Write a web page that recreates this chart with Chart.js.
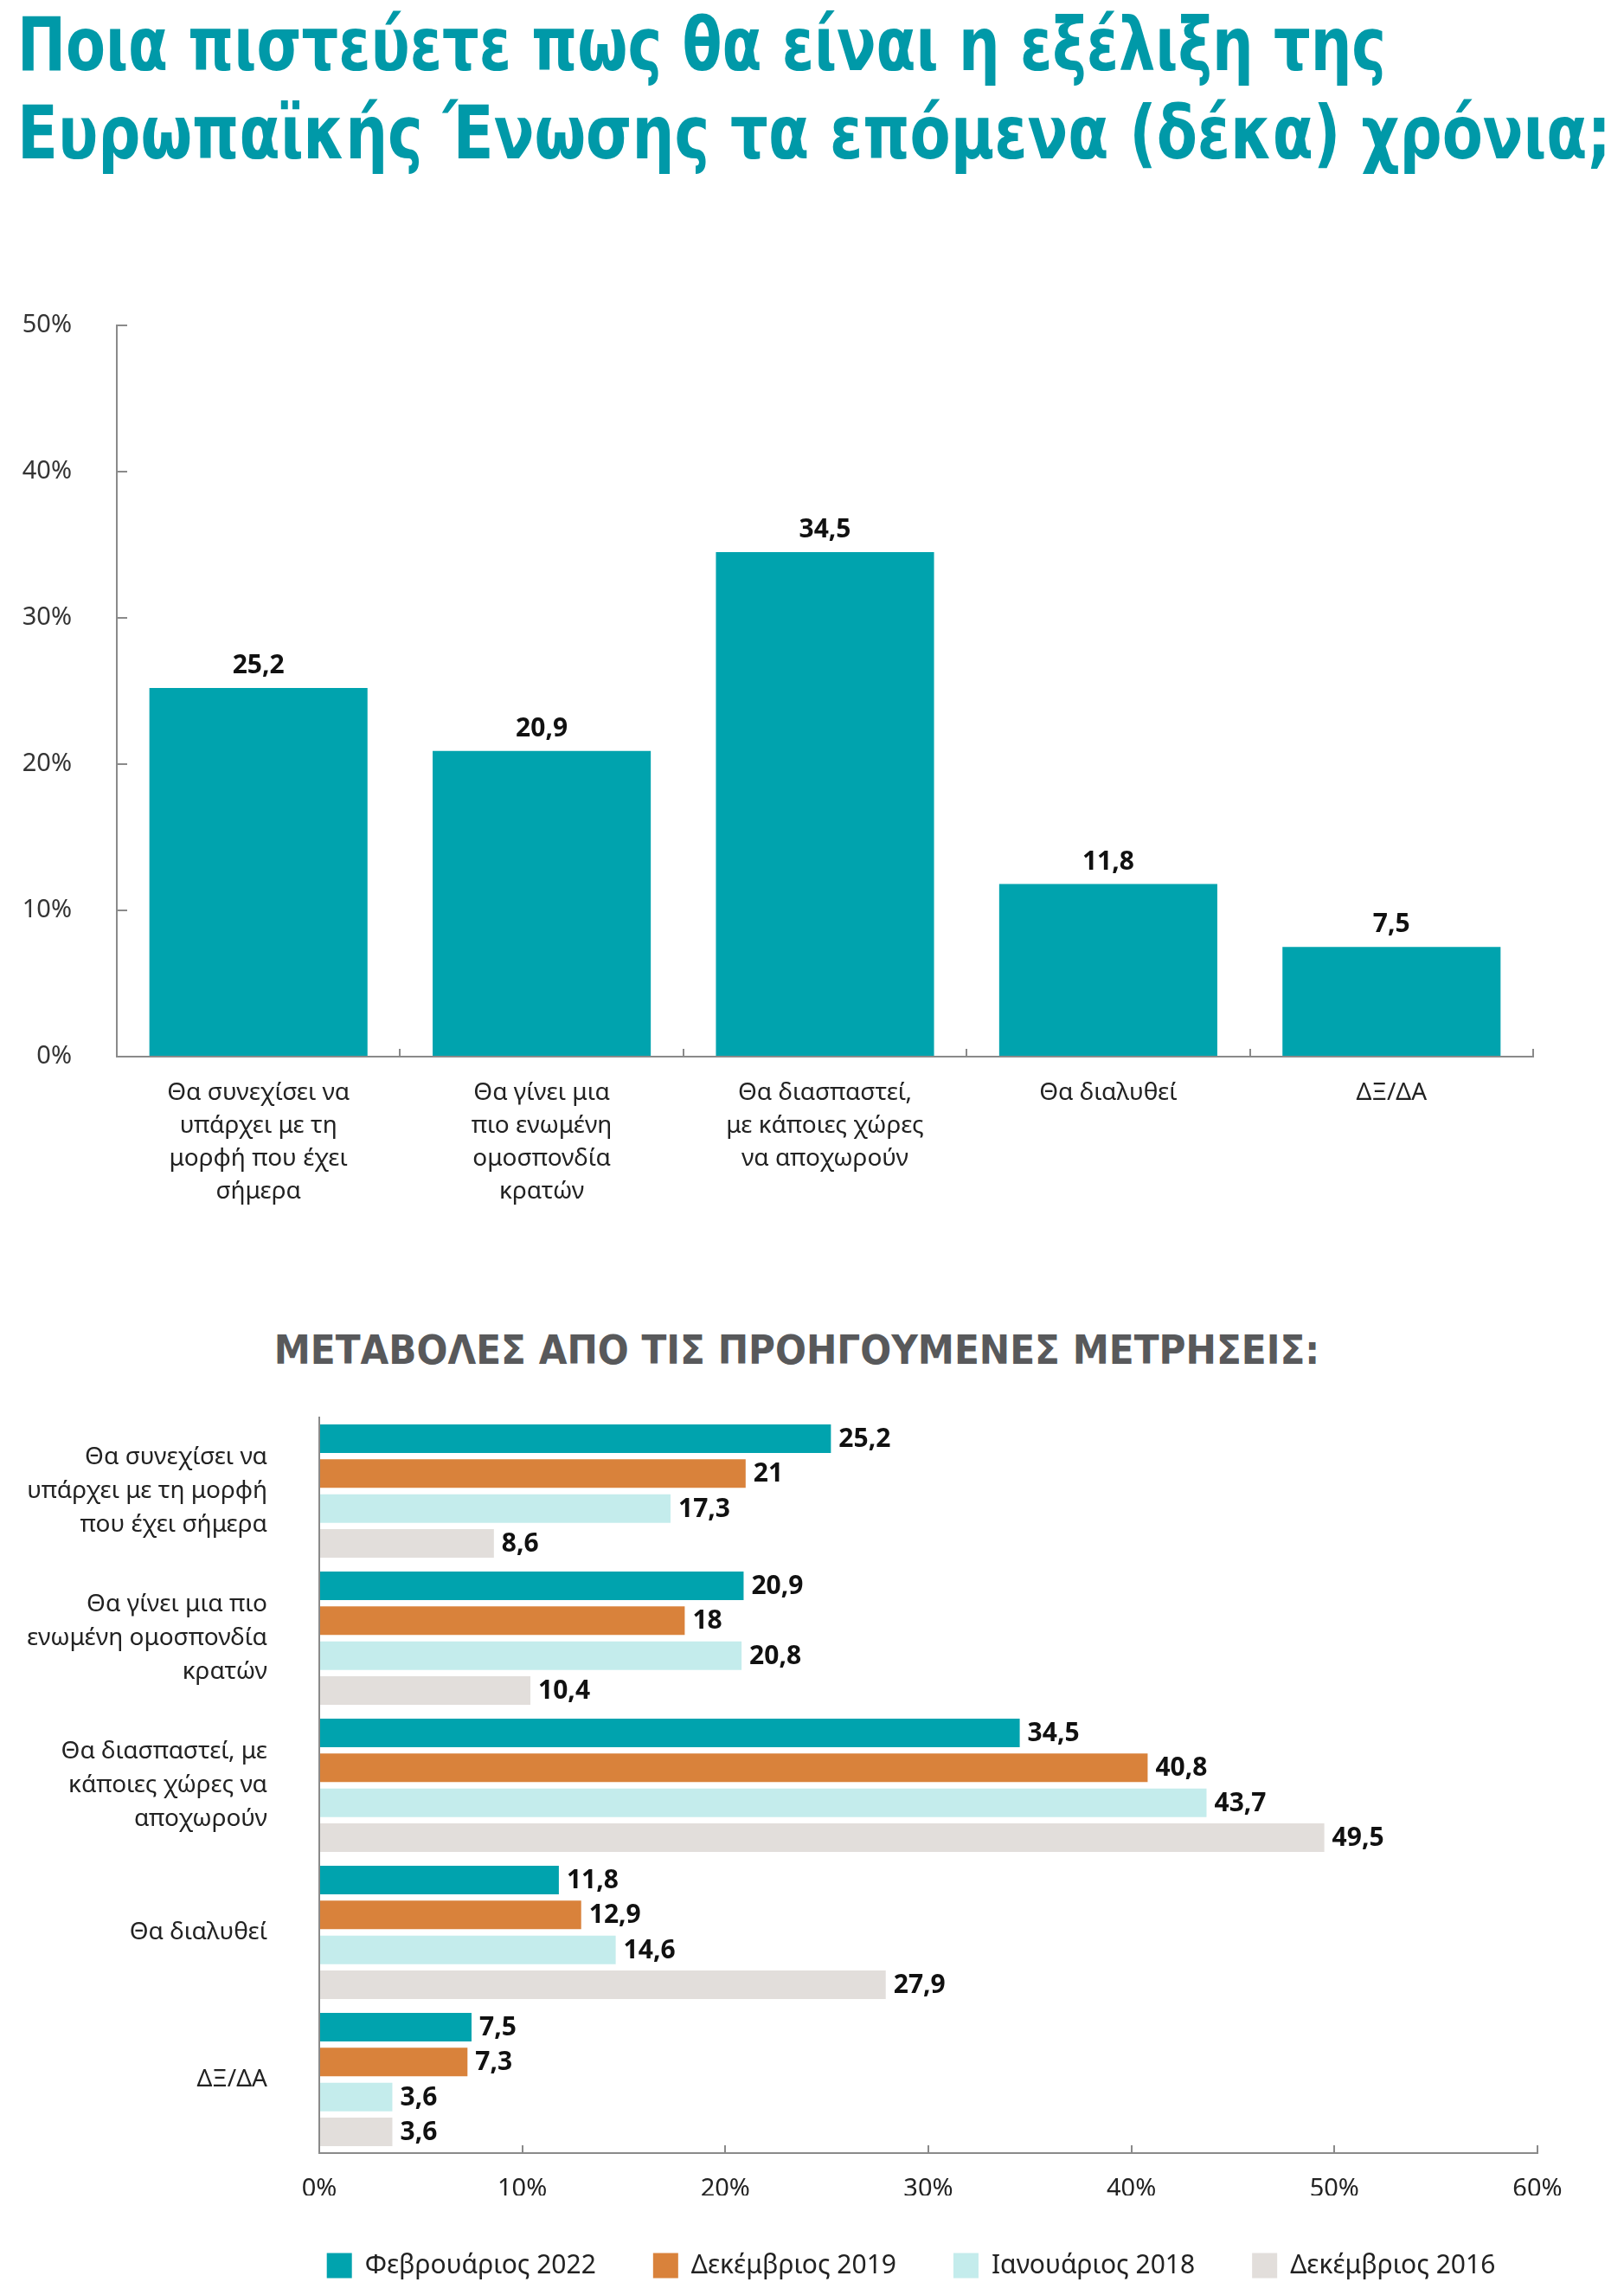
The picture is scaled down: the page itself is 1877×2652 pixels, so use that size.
<!DOCTYPE html>
<html>
<head>
<meta charset="utf-8">
<script src="https://cdn.jsdelivr.net/npm/chart.js@4.4.1/dist/chart.umd.min.js"></script>
<style>
  html, body { margin: 0; padding: 0; background: #fff; overflow: hidden; }
  body { width: 1877px; height: 2652px; position: relative; }
  #title {
    position: absolute; left: 20px; top: 0px;
    font-family: "Liberation Sans Narrow", "DejaVu Sans Condensed", sans-serif;
    font-weight: bold; font-size: 86px; line-height: 102px;
    color: #0099a8; white-space: nowrap;
  }
  #title span { display: inline-block; transform-origin: 0 50%; }
  #subtitle {
    position: absolute; left: 0; width: 1842px; top: 1536px; text-align: center;
    font-family: "Liberation Sans Narrow", "DejaVu Sans Condensed", sans-serif;
    font-weight: bold; font-size: 47px; line-height: 47px;
    color: #58595b; white-space: nowrap;
  }
  canvas { position: absolute; left: 0; }
  #top-chart { top: 300px; }
  #change-chart { top: 1610px; }
</style>
</head>
<body>
<div id="title"><span data-w="1582">Ποια πιστεύετε πως θα είναι η εξέλιξη της</span><br><span data-w="1842">Ευρωπαϊκής Ένωσης τα επόμενα (δέκα) χρόνια;</span></div>
<div id="subtitle">ΜΕΤΑΒΟΛΕΣ ΑΠΟ ΤΙΣ ΠΡΟΗΓΟΥΜΕΝΕΣ ΜΕΤΡΗΣΕΙΣ:</div>
<canvas id="top-chart" width="1877" height="1121"></canvas>
<canvas id="change-chart" width="1877" height="1033"></canvas>
<script>
// answers (top chart has them split over lines, bottom chart a bit wider)
const topLabels = [
    ['Θα συνεχίσει να', 'υπάρχει με τη', 'μορφή που έχει', 'σήμερα'],
    ['Θα γίνει μια', 'πιο ενωμένη', 'ομοσπονδία', 'κρατών'],
    ['Θα διασπαστεί,', 'με κάποιες χώρες', 'να αποχωρούν'],
    'Θα διαλυθεί',
    'ΔΞ/ΔΑ'
];
const changeLabels = [
    ['Θα συνεχίσει να', 'υπάρχει με τη μορφή', 'που έχει σήμερα'],
    ['Θα γίνει μια πιο', 'ενωμένη ομοσπονδία', 'κρατών'],
    ['Θα διασπαστεί, με', 'κάποιες χώρες να', 'αποχωρούν'],
    'Θα διαλυθεί',
    'ΔΞ/ΔΑ'
];

const seriesNames = ['Φεβρουάριος 2022', 'Δεκέμβριος 2019', 'Ιανουάριος 2018', 'Δεκέμβριος 2016'];
const feb2022 = [25.2, 20.9, 34.5, 11.8, 7.5];
const dec2019 = [21, 18, 40.8, 12.9, 7.3];
const jan2018 = [17.3, 20.8, 43.7, 14.6, 3.6];
const dec2016 = [8.6, 10.4, 49.5, 27.9, 3.6];

const colors = ['#00a3ae', '#d9823b', '#c4ecec', '#e2dedb'];

const axisColor = '#8a8a8a';

// squeeze the title lines to the width they have in the original
document.querySelectorAll('#title span').forEach(s => {
    const k = Number(s.dataset.w) / s.getBoundingClientRect().width;
    s.style.transform = 'scaleX(' + k + ')';
});

function fmt(v) {
    return String(v).replace('.', ',');
}

// writes the value next to / above each bar
const valueLabels = {
    id: 'valueLabels',
    afterDatasetsDraw(chart) {
        const ctx = chart.ctx;
        const horizontal = chart.options.indexAxis === 'y';
        ctx.save();
        ctx.font = 'bold 30px "Noto Sans", sans-serif';
        ctx.fillStyle = '#111';
        chart.data.datasets.forEach((ds, i) => {
            chart.getDatasetMeta(i).data.forEach((bar, j) => {
                const txt = fmt(ds.data[j]);
                if (horizontal) {
                    ctx.textAlign = 'left';
                    ctx.textBaseline = 'middle';
                    ctx.fillText(txt, bar.x + 9, bar.y + 1);
                } else {
                    ctx.textAlign = 'center';
                    ctx.textBaseline = 'alphabetic';
                    ctx.fillText(txt, bar.x, bar.y - 17);
                }
            });
        });
        ctx.restore();
    }
};

// the legend in the original sits a bit right of the page centre
const shiftLegend = {
    id: 'shiftLegend',
    afterLayout(chart) {
        const lg = chart.legend;
        const d = 1053 - (lg.left + lg.right) / 2;
        lg.left += d;
        lg.right += d;
    }
};

Chart.defaults.font.family = '"Noto Sans", sans-serif';
Chart.defaults.color = '#222';

// top chart: February 2022 only
new Chart(document.getElementById('top-chart').getContext('2d'), {
    type: 'bar',
    data: {
        labels: topLabels,
        datasets: [{
            label: seriesNames[0],
            data: feb2022,
            backgroundColor: colors[0],
            barPercentage: 0.77,
            categoryPercentage: 1
        }]
    },
    options: {
        responsive: false,
        animation: false,
        devicePixelRatio: 1,
        layout: { padding: { top: 76, right: 105, left: 0, bottom: 0 } },
        plugins: { legend: { display: false }, tooltip: { enabled: false } },
        scales: {
            x: {
                afterFit(scale) { scale.height = 200; scale.paddingLeft = 0; scale.paddingRight = 0; },
                border: { color: axisColor, width: 2 },
                grid: { drawOnChartArea: false, color: axisColor, lineWidth: 2, tickLength: -9 },
                ticks: { font: { size: 28, lineHeight: 1.36 }, color: '#222', padding: 32, maxRotation: 0, autoSkip: false }
            },
            y: {
                min: 0,
                max: 50,
                afterFit(scale) { scale.width = 135; scale.paddingTop = 0; scale.paddingBottom = 0; },
                border: { color: axisColor, width: 2 },
                grid: { drawOnChartArea: false, color: axisColor, lineWidth: 2, tickLength: -12 },
                ticks: { stepSize: 10, font: { size: 29 }, color: '#333', padding: 64, callback: v => v + '%' }
            }
        }
    },
    plugins: [valueLabels]
});

// bottom chart: all four measurements
const changeSeries = [feb2022, dec2019, jan2018, dec2016];
new Chart(document.getElementById('change-chart').getContext('2d'), {
    type: 'bar',
    data: {
        labels: changeLabels,
        datasets: changeSeries.map((d, i) => ({
            label: seriesNames[i],
            data: d,
            backgroundColor: colors[i],
            barPercentage: 0.82,
            categoryPercentage: 0.95
        }))
    },
    options: {
        indexAxis: 'y',
        responsive: false,
        animation: false,
        devicePixelRatio: 1,
        layout: { padding: { top: 28, right: 100, left: 0, bottom: 0 } },
        plugins: {
            tooltip: { enabled: false },
            legend: {
                position: 'bottom',
                labels: { boxWidth: 29, boxHeight: 29, padding: 66, font: { size: 30 }, color: '#222' }
            }
        },
        scales: {
            x: {
                min: 0,
                max: 60,
                afterFit(scale) { scale.height = 49; scale.paddingLeft = 0; scale.paddingRight = 0; },
                border: { color: axisColor, width: 2 },
                grid: { drawOnChartArea: false, color: axisColor, lineWidth: 2, tickLength: -9 },
                ticks: { stepSize: 10, font: { size: 29 }, color: '#222', padding: 33, callback: v => v + '%' }
            },
            y: {
                afterFit(scale) { scale.width = 369; scale.paddingTop = 0; scale.paddingBottom = 0; },
                border: { color: axisColor, width: 2 },
                grid: { drawOnChartArea: false, drawTicks: false },
                ticks: { font: { size: 28, lineHeight: 1.4 }, color: '#222', padding: 60, autoSkip: false }
            }
        }
    },
    plugins: [valueLabels, shiftLegend]
});
</script>
</body>
</html>
